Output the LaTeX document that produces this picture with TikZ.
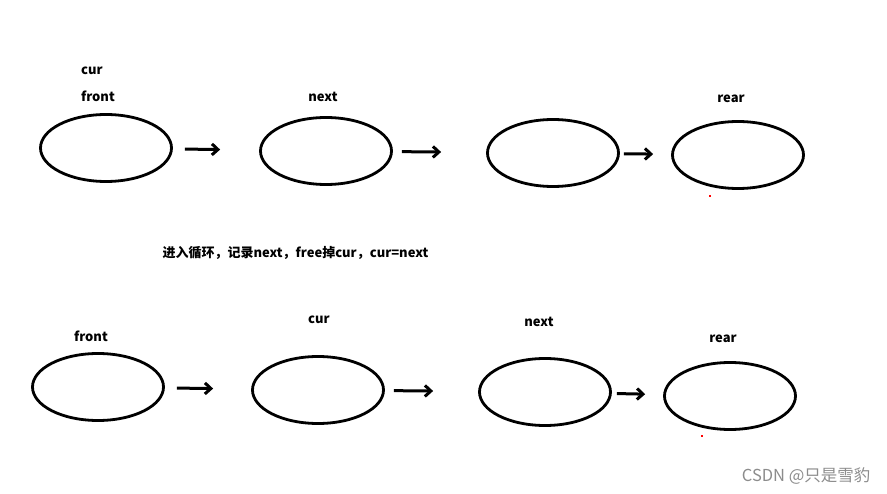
\documentclass[tikz,border=0pt]{standalone}
\usepackage{fontspec}
\setmainfont{Noto Sans CJK SC}
\usetikzlibrary{arrows.meta,shapes.geometric}
\begin{document}
\begin{tikzpicture}[x=1pt,y=-1pt,
    box/.style={draw, ellipse, line width=2.8pt, minimum width=131pt, minimum height=67pt, inner sep=0pt},
    lbl/.style={font=\fontsize{13}{15}\selectfont\bfseries},
    link/.style={line width=3pt, -{Straight Barb[length=6pt,width=11pt,line width=3pt]}}]
    \useasboundingbox (0,0) rectangle (887,494);

    \node[box] (a1) at (106,148) {};
    \node[box] (a2) at (326,151) {};
    \node[box] (a3) at (553,153) {};
    \node[box] (a4) at (738,155) {};
    \draw[link, shorten <=12pt, shorten >=39pt] (a1) -- (a2);
    \draw[link, shorten <=9pt, shorten >=45pt] (a2) -- (a3);
    \draw[link, shorten <=4pt, shorten >=18pt] (a3) -- (a4);
    \node[lbl] (acur) at (92,71) {cur};
    \node[lbl] (afront) at (98,96) {front};
    \node[lbl] (anext) at (323,97) {next};
    \node[lbl] (arear) at (731,99) {rear};

    \node[lbl, anchor=west] (step) at (159,253) {进入循环，记录next，free掉cur，cur=next};

    \node[box] (b1) at (98,387) {};
    \node[box] (b2) at (318,390) {};
    \node[box] (b3) at (545,392) {};
    \node[box] (b4) at (730,396) {};
    \draw[link, shorten <=12pt, shorten >=38pt] (b1) -- (b2);
    \draw[link, shorten <=9pt, shorten >=45pt] (b2) -- (b3);
    \draw[link, shorten <=5pt, shorten >=18pt] (b3) -- (b4);
    \node[lbl] (bfront) at (91,336) {front};
    \node[lbl] (bcur) at (319,320) {cur};
    \node[lbl] (bnext) at (539,322) {next};
    \node[lbl] (brear) at (723,339) {rear};

    \fill[red] (709,195) rectangle (711,197);
    \fill[red] (701,435) rectangle (703,437);

    \node[font=\fontsize{16.5}{18}\selectfont, text=black!45, anchor=east] (mark) at (874,476) {CSDN @只是雪豹};
\end{tikzpicture}
\end{document}
